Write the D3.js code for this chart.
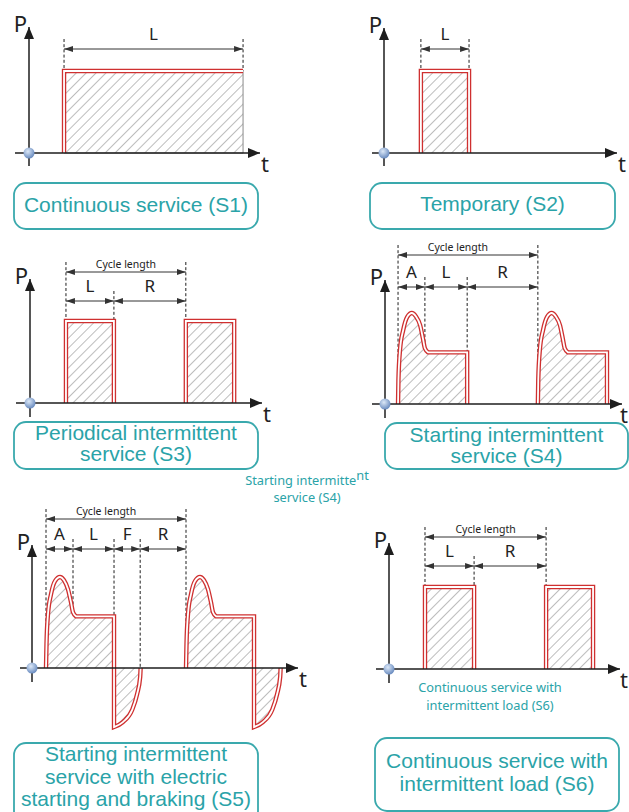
<!DOCTYPE html>
<html><head><meta charset="utf-8">
<script src="https://cdn.jsdelivr.net/npm/d3@7"></script>
<style>html,body{margin:0;padding:0;background:#fff;} svg{display:block}</style>
</head><body>
<svg id="chart" width="629" height="812"></svg>
<script>
// ================= DATA =================
// time in seconds (0-60 along every t axis), power in % of rated load
const timeDomain = [0, 60];
const powerDomain = [0, 100];

// S1 continuous service
const s1Hold = [[[9.1,0],[9.1,100],[55.6,100],[55.6,0]]];
const s1Phases = [["L", 9.1, 55.6]];
const s1Cycle = null;
const s1Dashed = [[9.1,100,"p"],[55.6,100,"p"]];

// S2 temporary
const s2Hold = [[[9.5,0],[9.5,100],[21.9,100],[21.9,0]]];
const s2Phases = [["L", 9.5, 21.9]];
const s2Cycle = null;
const s2Dashed = [[9.5,100,"p"],[21.9,100,"p"]];

// S3 periodical intermittent
const s3Hold = [[[9.3,0],[9.3,100],[21.7,100],[21.7,0]], [[40.3,0],[40.3,100],[52.8,100],[52.8,0]]];
const s3Phases = [["L", 9.3, 21.7], ["R", 21.7, 40.3]];
const s3Cycle = [9.3, 40.3];
const s3Dashed = [[9.3,100,"c"],[21.7,100,"p"],[40.3,100,"c"]];

// S4 starting intermittent
const s4Rise = [
  [[3.3,0],[3.4,29],[3.8,66],[4.6,90],[5.6,106],[6.8,111],[7.8,107],[8.9,96],[9.6,80],[10.1,68],[10.9,63]],
  [[38.7,0],[38.8,29],[39.2,66],[40.0,90],[41.0,106],[42.2,111],[43.2,107],[44.3,96],[45.0,80],[45.5,68],[46.3,63]]
];
const s4Hold = [[[10.9,63],[20.8,63],[20.8,0]], [[46.3,63],[56.2,63],[56.2,0]]];
const s4Phases = [["A", 3.3, 10.1], ["L", 10.1, 20.8], ["R", 20.8, 38.7]];
const s4Cycle = [3.3, 38.7];
const s4Dashed = [[3.3,0,"c"],[10.1,68,"p"],[20.8,63,"p"],[38.7,0,"c"]];

// S5 starting intermittent with electric braking
const s5Rise = [
  [[3.16,0],[3.27,29],[3.61,66],[4.29,90],[5.19,106],[6.32,111],[7.22,107],[8.12,96],[8.8,80],[9.25,68],[9.93,63]],
  [[34.74,0],[34.85,29],[35.19,66],[35.87,90],[36.77,106],[37.9,111],[38.8,107],[39.7,96],[40.38,80],[40.83,68],[41.51,63]]
];
const s5Hold = [[[9.93,63],[18.5,63],[18.5,-72]], [[41.51,63],[50.08,63],[50.08,-72]]];
const s5Brake = [
  [[18.5,-72],[20.5,-66],[22.6,-51],[23.7,-32],[24.4,-11],[24.5,0]],
  [[50.08,-72],[52.08,-66],[54.18,-51],[55.28,-32],[55.98,-11],[56.08,0]]
];
const s5Phases = [["A", 3.16, 9.25], ["L", 9.25, 18.5], ["F", 18.5, 24.4], ["R", 24.4, 34.74]];
const s5Cycle = [3.16, 34.74];
const s5Dashed = [[3.16,0,"c"],[9.25,68,"p"],[18.5,63,"p"],[24.4,0,"p"],[34.74,0,"c"]];

// S6 continuous service with intermittent load
const s6Hold = [[[9.35,0],[9.35,100],[22.1,100],[22.1,0]], [[40.8,0],[40.8,100],[53.0,100],[53.0,0]]];
const s6Phases = [["L", 9.35, 22.1], ["R", 22.1, 40.8]];
const s6Cycle = [9.35, 40.8];
const s6Dashed = [[9.35,100,"c"],[22.1,100,"p"],[40.8,100,"c"]];

// captions
const s1Title = ["Continuous service (S1)"];
const s2Title = ["Temporary (S2)"];
const s3Title = ["Periodical intermittent", "service (S3)"];
const s4Title = ["Starting interminttent", "service (S4)"];
const s5Title = ["Starting intermittent", "service with electric", "starting and braking (S5)"];
const s6Title = ["Continuous service with", "intermittent load (S6)"];
const cycleLabel = "Cycle length";

// ================= LAYOUT =================
const RED = "#cf3030", TEAL_TXT = "#2aa3a8", TEAL_BOX = "#3aa9ad", INK = "#1e1e1e";
const panels = [
  {ox:29, oy:153, xTip:260, yTip:27, xStart:15, yEnd:166, tDx:1, hold:s1Hold, phases:s1Phases, cycle:s1Cycle, dashed:s1Dashed, openRight:true,
   phaseY:49, box:[14,183,244,46], title:s1Title, base:[212]},
  {ox:384, oy:153, xTip:617, yTip:28, xStart:372, yEnd:166, tDx:1, hold:s2Hold, phases:s2Phases, cycle:s2Cycle, dashed:s2Dashed,
   phaseY:49, box:[370,183,245,46], title:s2Title, base:[211]},
  {ox:30, oy:403, xTip:262, yTip:279, xStart:16, yEnd:417, tDx:1, hold:s3Hold, phases:s3Phases, cycle:s3Cycle, dashed:s3Dashed,
   cycleY:272, cycleDx:0, phaseY:301, box:[14,422,244,47], title:s3Title, base:[440,461]},
  {ox:385, oy:404, xTip:622, yTip:280, xStart:372, yEnd:418, tDx:-2, rise:s4Rise, hold:s4Hold, phases:s4Phases, cycle:s4Cycle, dashed:s4Dashed,
   cycleY:255, cycleDx:-10, phaseY:287, box:[385,423,243,46], title:s4Title, base:[442,463]},
  {ox:32, oy:668, xTip:298, yTip:545, xStart:20, yEnd:682, tDx:1, rise:s5Rise, hold:s5Hold, brake:s5Brake, phases:s5Phases, cycle:s5Cycle, dashed:s5Dashed,
   cycleY:519, cycleDx:-10, phaseY:549, box:[14,743,244,80], title:s5Title, base:[761,784,806]},
  {ox:389, oy:669, xTip:620, yTip:543, xStart:376, yEnd:683, tDx:0, hold:s6Hold, phases:s6Phases, cycle:s6Cycle, dashed:s6Dashed,
   cycleY:537, cycleDx:0, phaseY:566, box:[375,738,244,73], title:s6Title, base:[768,791]}
];

const svg = d3.select("#chart");
const defs = svg.append("defs");
const pat = defs.append("pattern").attr("id","hatch").attr("patternUnits","userSpaceOnUse")
  .attr("width",7).attr("height",7).attr("patternTransform","rotate(45)");
pat.append("line").attr("x1",0).attr("y1",-1).attr("x2",0).attr("y2",8).attr("stroke","#858585").attr("stroke-width",1.1);
const rg = defs.append("radialGradient").attr("id","dot").attr("cx","40%").attr("cy","35%").attr("r","65%");
rg.append("stop").attr("offset","0%").attr("stop-color","#dce8f7");
rg.append("stop").attr("offset","100%").attr("stop-color","#6a8cc0");
defs.append("marker").attr("id","axArrow").attr("viewBox","0 0 12 10").attr("refX",12).attr("refY",5)
  .attr("markerUnits","userSpaceOnUse").attr("markerWidth",12).attr("markerHeight",10).attr("orient","auto")
  .append("path").attr("d","M0,0L12,5L0,10Z").attr("fill",INK);
defs.append("marker").attr("id","dimArrow").attr("viewBox","0 0 9 6").attr("refX",9).attr("refY",3)
  .attr("markerUnits","userSpaceOnUse").attr("markerWidth",9).attr("markerHeight",6).attr("orient","auto-start-reverse")
  .append("path").attr("d","M0,0L9,3L0,6Z").attr("fill","#333");

const SANS = "'Noto Sans', 'Open Sans', sans-serif";
const ARIAL = "'Liberation Sans', Arial, sans-serif";

panels.forEach(p => {
  const g = svg.append("g");
  const x = d3.scaleLinear().domain(timeDomain).range([p.ox, p.xTip]);
  const y = d3.scaleLinear().domain(powerDomain).range([p.oy, p.oy - 82]);
  const straight = d3.line().x(d => x(d[0])).y(d => y(d[1]));
  const smooth = d3.line().x(d => x(d[0])).y(d => y(d[1])).curve(d3.curveMonotoneX);

  const outlines = p.hold.map((h, i) => {
    let d = "";
    if (p.rise) d += smooth(p.rise[i]);
    const hh = p.openRight ? h.slice(0, -1) : h;
    d += d ? straight(hh).replace(/^M/, "L") : straight(hh);
    if (p.brake) d += smooth(p.brake[i]).replace(/^M/, "L");
    return d;
  });
  const fills = p.hold.map((h, i) => {
    let d = "";
    if (p.rise) d += smooth(p.rise[i]);
    d += d ? straight(h).replace(/^M/, "L") : straight(h);
    if (p.brake) d += smooth(p.brake[i]).replace(/^M/, "L");
    return d + "Z";
  });

  // hatched areas
  g.selectAll("path.fill").data(fills).join("path").attr("class","fill")
    .attr("d", d => d).attr("fill","url(#hatch)")
    .attr("stroke", p.openRight ? "#8a8a8a" : "none").attr("stroke-width",1);

  // dashed guides
  const rowY = k => (k === "c" ? p.cycleY : p.phaseY) - 10;
  g.selectAll("line.dash").data(p.dashed).join("line").attr("class","dash")
    .attr("x1", d => x(d[0])).attr("x2", d => x(d[0]))
    .attr("y1", d => rowY(d[2])).attr("y2", d => y(d[1]))
    .attr("stroke", INK).attr("stroke-width",1).attr("stroke-dasharray","3,2.2");

  // double red outline
  g.selectAll("path.red").data(outlines).join("path").attr("class","red")
    .attr("d", d => d).attr("fill","none").attr("stroke",RED).attr("stroke-width",4.4).attr("stroke-linejoin","miter");
  g.selectAll("path.white").data(outlines).join("path").attr("class","white")
    .attr("d", d => d).attr("fill","none").attr("stroke","#fff").attr("stroke-width",1.8).attr("stroke-linejoin","miter");

  // dimension lines
  const dims = p.phases.map(ph => ({lab: ph[0], a: ph[1], b: ph[2], y: p.phaseY}));
  g.selectAll("line.dim").data(dims).join("line").attr("class","dim")
    .attr("x1", d => x(d.a)).attr("x2", d => x(d.b)).attr("y1", d => d.y).attr("y2", d => d.y)
    .attr("stroke","#333").attr("stroke-width",1)
    .attr("marker-start","url(#dimArrow)").attr("marker-end","url(#dimArrow)");
  g.selectAll("text.dim").data(dims).join("text").attr("class","dim")
    .attr("x", d => (x(d.a) + x(d.b)) / 2).attr("y", d => d.y - 9)
    .attr("text-anchor","middle").attr("font-family",SANS).attr("font-size",17).attr("fill","#222")
    .text(d => d.lab);
  if (p.cycle) {
    g.append("line").attr("x1", x(p.cycle[0])).attr("x2", x(p.cycle[1]))
      .attr("y1", p.cycleY).attr("y2", p.cycleY).attr("stroke","#333").attr("stroke-width",1)
      .attr("marker-start","url(#dimArrow)").attr("marker-end","url(#dimArrow)");
    g.append("text").attr("x", (x(p.cycle[0]) + x(p.cycle[1])) / 2 + p.cycleDx).attr("y", p.cycleY - 4)
      .attr("text-anchor","middle").attr("font-family",SANS).attr("font-size",10.5).attr("fill","#222")
      .text(cycleLabel);
  }

  // axes
  g.append("line").attr("x1", p.ox).attr("x2", p.ox).attr("y1", p.yEnd).attr("y2", p.yTip)
    .attr("stroke",INK).attr("stroke-width",1.5).attr("marker-end","url(#axArrow)");
  g.append("line").attr("x1", p.xStart).attr("x2", p.xTip).attr("y1", p.oy).attr("y2", p.oy)
    .attr("stroke",INK).attr("stroke-width",1.5).attr("marker-end","url(#axArrow)");
  g.append("text").attr("x", p.ox - 2).attr("y", p.yTip + 5).attr("text-anchor","end")
    .attr("font-family",SANS).attr("font-size",22).attr("fill","#222").text("P");
  g.append("text").attr("x", p.xTip + p.tDx).attr("y", p.oy + 19)
    .attr("font-family",SANS).attr("font-size",22).attr("fill","#222").text("t");
  g.append("circle").attr("cx", p.ox).attr("cy", p.oy).attr("r",5.5).attr("fill","url(#dot)");

  // caption box
  const [bx, by, bw, bh] = p.box;
  g.append("rect").attr("x", bx).attr("y", by).attr("width", bw).attr("height", bh)
    .attr("rx",12).attr("ry",12).attr("fill","#fff").attr("stroke",TEAL_BOX).attr("stroke-width",1.8);
  p.title.forEach((t, i) => {
    g.append("text").attr("x", bx + bw / 2).attr("y", p.base[i]).attr("text-anchor","middle")
      .attr("font-family",ARIAL).attr("font-size",21).attr("fill",TEAL_TXT).text(t);
  });
});

// floating small captions
const fl1 = svg.append("text").attr("x",307).attr("y",485).attr("text-anchor","middle")
  .attr("font-family",SANS).attr("font-size",12.8).attr("fill",TEAL_TXT);
fl1.append("tspan").text("Starting intermitte");
fl1.append("tspan").attr("dy",-5).text("nt");
svg.append("text").attr("x",307).attr("y",502).attr("text-anchor","middle")
  .attr("font-family",SANS).attr("font-size",12.8).attr("fill",TEAL_TXT).text("service (S4)");
svg.append("text").attr("x",490).attr("y",692).attr("text-anchor","middle")
  .attr("font-family",SANS).attr("font-size",12.8).attr("fill",TEAL_TXT).text("Continuous service with");
svg.append("text").attr("x",490).attr("y",710).attr("text-anchor","middle")
  .attr("font-family",SANS).attr("font-size",12.8).attr("fill",TEAL_TXT).text("intermittent load (S6)");
</script>
</body></html>
